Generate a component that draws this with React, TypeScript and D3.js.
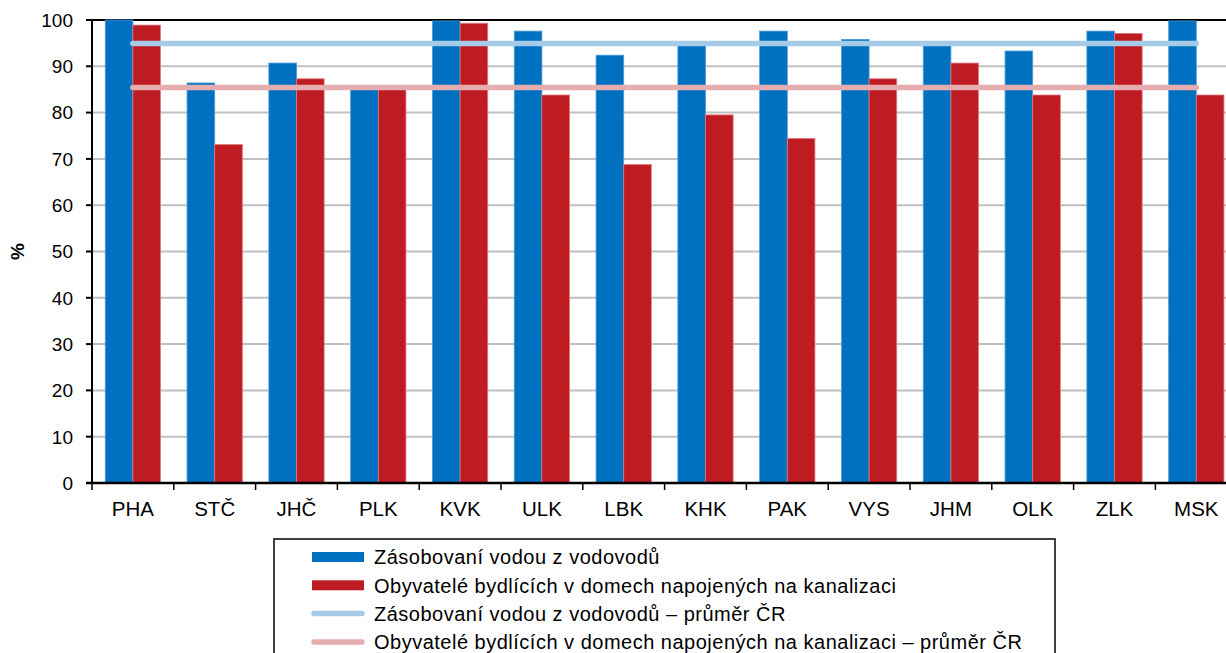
import React from 'react';
import * as d3 from 'd3';

const regions = ['PHA', 'STČ', 'JHČ', 'PLK', 'KVK', 'ULK', 'LBK', 'KHK', 'PAK', 'VYS', 'JHM', 'OLK', 'ZLK', 'MSK'];
const water = [100, 86.4, 90.7, 85.0, 99.8, 97.6, 92.4, 94.6, 97.6, 95.8, 94.5, 93.3, 97.6, 99.8];
const sewer = [98.9, 73.1, 87.3, 85.3, 99.3, 83.8, 68.8, 79.5, 74.4, 87.3, 90.7, 83.8, 97.1, 83.8];
const waterAvg = 94.9;
const sewerAvg = 85.4;
const yTicks = [0, 10, 20, 30, 40, 50, 60, 70, 80, 90, 100];
const legendLabels = [
  'Zásobovaní vodou z vodovodů',
  'Obyvatelé bydlících v domech napojených na kanalizaci',
  'Zásobovaní vodou z vodovodů – průměr ČR',
  'Obyvatelé bydlících v domech napojených na kanalizaci – průměr ČR',
];

const W = 1226;
const H = 653;
const margin = { top: 20, left: 92, bottom: 483 };
const step = 81.8;
const FONT = '"Liberation Sans", Arial, sans-serif';

const BLUE = '#0070c0';
const RED = '#be1b22';
const LIGHT_BLUE = '#a6cbe8';
const PINK = '#e6adb0';

const App: React.FC = () => {
  const x0 = d3.scaleBand<string>()
    .domain(regions)
    .range([margin.left, margin.left + step * regions.length])
    .padding(0);

  const x1 = d3.scaleBand<string>()
    .domain(['water', 'sewer'])
    .range([0, x0.bandwidth()])
    .paddingInner(0)
    .paddingOuter(0.48);

  const y = d3.scaleLinear().domain([0, 100]).range([margin.bottom, margin.top]);

  const first = x0(regions[0])! + x0.bandwidth() / 2;
  const last = x0(regions[regions.length - 1])! + x0.bandwidth() / 2;
  const boundaries = regions.map(r => x0(r)!).concat([x0.range()[1]]);

  const series = [
    { key: 'water', values: water, fill: BLUE, stroke: '#4a9ad6' },
    { key: 'sewer', values: sewer, fill: RED, stroke: '#e07a80' },
  ];

  const legendItems = [
    { type: 'rect', color: BLUE },
    { type: 'rect', color: RED },
    { type: 'line', color: LIGHT_BLUE },
    { type: 'line', color: PINK },
  ];

  return (
    <svg width={W} height={H} style={{ position: 'absolute', left: 0, top: 0, background: '#fff' }}
      fontFamily={FONT}>
      {/* gridlines */}
      {yTicks.filter(t => t > 0 && t < 100).map(t => (
        <line key={t} x1={margin.left} x2={W} y1={y(t)} y2={y(t)} stroke="#c0c0c0" strokeWidth={2} />
      ))}
      <line x1={margin.left} x2={W} y1={y(100)} y2={y(100)} stroke="#000" strokeWidth={2} />

      {/* bars */}
      {series.map(s => (
        <g key={s.key}>
          {regions.map((r, i) => (
            <rect key={r}
              x={x0(r)! + x1(s.key)!}
              y={y(s.values[i])}
              width={x1.bandwidth()}
              height={y(0) - y(s.values[i])}
              fill={s.fill}
              stroke={s.stroke}
              strokeWidth={0.8}
            />
          ))}
        </g>
      ))}

      {/* average lines */}
      <line x1={first} x2={last} y1={y(waterAvg)} y2={y(waterAvg)} stroke={LIGHT_BLUE} strokeWidth={5.5} strokeLinecap="round" />
      <line x1={first} x2={last} y1={y(sewerAvg)} y2={y(sewerAvg)} stroke={PINK} strokeWidth={5.5} strokeLinecap="round" />

      {/* y axis */}
      <line x1={margin.left} x2={margin.left} y1={margin.top - 1} y2={margin.bottom} stroke="#000" strokeWidth={2} />
      {yTicks.map(t => (
        <g key={t}>
          <line x1={margin.left - 6} x2={margin.left} y1={y(t)} y2={y(t)} stroke="#000" strokeWidth={2} />
          <text x={margin.left - 19} y={y(t)} dy="0.36em" textAnchor="end" fontSize={19} fill="#000">{t}</text>
        </g>
      ))}
      <text transform={`translate(24,${(margin.top + margin.bottom) / 2}) rotate(-90)`} textAnchor="middle"
        fontSize={19} fontWeight="bold" fill="#000">%</text>

      {/* x axis */}
      <line x1={margin.left - 6} x2={W} y1={margin.bottom} y2={margin.bottom} stroke="#000" strokeWidth={2.5} />
      {boundaries.map((b, i) => (
        <line key={i} x1={b} x2={b} y1={margin.bottom} y2={margin.bottom + 7} stroke="#000" strokeWidth={1.5} />
      ))}
      {regions.map(r => (
        <text key={r} x={x0(r)! + x0.bandwidth() / 2} y={margin.bottom + 33} textAnchor="middle" fontSize={20.5} fill="#000">{r}</text>
      ))}

      {/* legend */}
      <rect x={274} y={539} width={781} height={130} fill="#fff" stroke="#000" strokeWidth={1.5} />
      {legendItems.map((it, i) => {
        const cy = 557 + i * 28.3;
        return (
          <g key={i}>
            {it.type === 'rect'
              ? <rect x={312} y={cy - 5} width={52} height={10} fill={it.color} />
              : <line x1={314} x2={362} y1={cy} y2={cy} stroke={it.color} strokeWidth={5.5} strokeLinecap="round" />}
            <text x={374} y={cy} dy="0.36em" fontSize={20} letterSpacing={0.5} fill="#000">{legendLabels[i]}</text>
          </g>
        );
      })}
    </svg>
  );
};

export default App;
